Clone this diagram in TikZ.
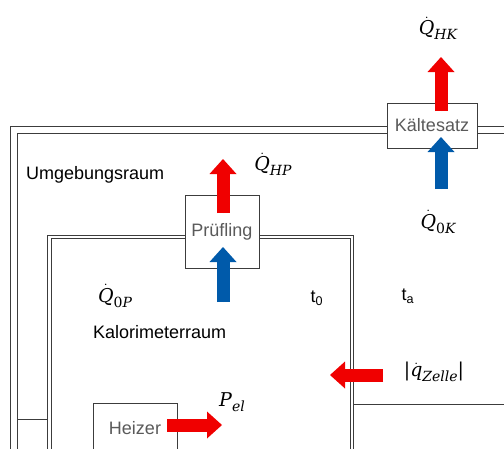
\documentclass[tikz,border=0pt]{standalone}
\usepackage{fontspec}
\setmainfont{Liberation Sans}
\newfontfamily\symfont{DejaVu Serif}
\usetikzlibrary{arrows.meta}

\definecolor{heatred}{RGB}{240,0,0}
\definecolor{coldblue}{RGB}{0,90,170}
\definecolor{wallgrey}{RGB}{60,60,60}
\definecolor{boxtext}{RGB}{90,90,90}

% dotted letter and lowered index for the flux labels
\newcommand{\dotted}[1]{$\dot{\hbox{#1}}$}
\newcommand{\lsub}[1]{\raisebox{-4.5pt}{\fontsize{14}{16}\selectfont #1}}

\tikzset{
  wall/.style={draw=wallgrey, line width=0.9pt},
  unit/.style={draw=wallgrey, line width=0.9pt, fill=white, text=boxtext,
    font=\fontsize{18}{21}\selectfont, inner sep=0pt},
  lbl/.style={font=\fontsize{18}{21}\selectfont, inner sep=0pt},
  sym/.style={font=\symfont\itshape\fontsize{19}{22}\selectfont, inner sep=0pt},
  flow/.style={line width=13pt, -{Triangle[width=27pt, length=15pt, line width=0pt]}},
  hot/.style={flow, draw=heatred, fill=heatred},
  cold/.style={flow, draw=coldblue, fill=coldblue},
}

\begin{document}
\begin{tikzpicture}[x=1pt, y=-1pt]
  \useasboundingbox (0,0) rectangle (504,448);
  \clip (0,0) rectangle (504,448);

  % Umgebungsraum (double wall)
  \draw[wall] (10,470) |- (520,126);
  \draw[wall] (17,470) |- (520,133);
  \draw[wall] (17,419) -- (47,419);

  % Kalorimeterraum (double wall)
  \draw[wall] (47,470) |- (353,235) -- (353,470);
  \draw[wall] (51,470) |- (350,238) -- (350,470);
  \draw[wall] (353,404) -- (520,404);

  % units
  \node[unit, minimum width=90pt, minimum height=45pt] (kaelte) at (432,125.5) {Kältesatz};
  \node[unit, minimum width=74pt, minimum height=73pt] (pruef) at (222,231.5) {Prüfling};
  \node[unit, minimum width=84pt, minimum height=50pt] (heizer) at (135,428) {Heizer};

  % arrow ends
  \coordinate (kHot0) at (441,111);
  \coordinate (kHot1) at (441,57);
  \coordinate (kCold0) at (441,189);
  \coordinate (kCold1) at (441,137);
  \coordinate (pHot0) at (223,213);
  \coordinate (pHot1) at (223,159);
  \coordinate (pCold0) at (223,302);
  \coordinate (pCold1) at (223,247);
  \coordinate (zell0) at (383,375);
  \coordinate (zell1) at (330,375);
  \coordinate (heiz0) at (167,425);
  \coordinate (heiz1) at (222,425);

  % heat flows
  \draw[hot] (kHot0) -- (kHot1);
  \draw[cold] (kCold0) -- (kCold1);
  \draw[hot] (pHot0) -- (pHot1);
  \draw[cold] (pCold0) -- (pCold1);
  \draw[hot] (zell0) -- (zell1);
  \draw[hot] (heiz0) -- (heiz1);

  % labels
  \node[sym] (QHK) at (438,28) {\dotted{Q}\lsub{HK}};
  \node[sym] (QOK) at (438,222) {\dotted{Q}\lsub{{\upshape 0}K}};
  \node[sym] (QHP) at (273,164) {\dotted{Q}\lsub{HP}};
  \node[sym] (QOP) at (115,296) {\dotted{Q}\lsub{{\upshape 0}P}};
  \node[sym] (Pel) at (232,402) {P\lsub{el}};
  \node[sym] (qZelle) at (434,372) {{\upshape|}\dotted{q}\lsub{Zelle}{\upshape|}};
  \node[lbl] (tnull) at (317,298) {t\textsubscript{0}};
  \node[lbl] (ta) at (408,296) {t\textsubscript{a}};
  \node[lbl, anchor=west] (umgebung) at (26,175) {Umgebungsraum};
  \node[lbl, anchor=west] (kalori) at (93,332) {Kalorimeterraum};
\end{tikzpicture}
\end{document}
